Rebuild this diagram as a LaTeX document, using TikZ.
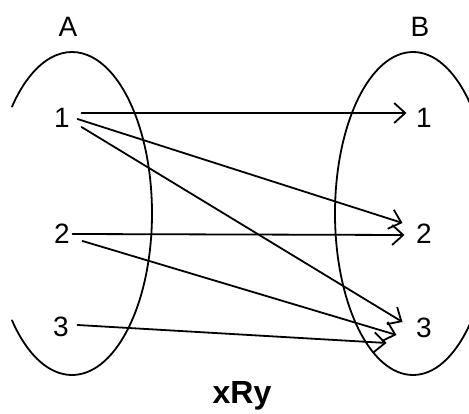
\documentclass[tikz,border=0pt]{standalone}
\usepackage{fontspec}
\setmainfont{Liberation Sans}
\usetikzlibrary{arrows.meta}

\begin{document}
\begin{tikzpicture}[
    x=1pt,
    y=-1pt,
    line cap=round,
    line join=round,
    setedge/.style={
        line width=1.8pt
    },
    maparrow/.style={
        line width=1.8pt,
        -{Straight Barb[length=11pt,width=20pt]}
    },
    elem/.style={
        inner sep=0pt
    },
    every node/.style={
        font=\fontsize{28}{30}\selectfont
    }
]

\useasboundingbox (0,0) rectangle (469,414);

% =================================================
% Множества A и B
% =================================================

\coordinate (SA) at (72,213.5);
\coordinate (SB) at (413,213.5);

% Множество A (овал с разрывом слева)
\draw[setedge] ([shift={(138.6:80 and 161.5)}]SA)
    arc[start angle=138.6, end angle=-138.6, x radius=80, y radius=161.5];

% Множество B
\begin{scope}
    \clip (0,0) rectangle (469,414);
    \draw[setedge] (SB) ellipse[x radius=78, y radius=161.5];
\end{scope}

\node (A) at (68,27)  {A};
\node (B) at (420,27) {B};

% =================================================
% Элементы множеств
% =================================================

\node[elem] (a1) at (62,118) {1};
\node[elem] (a2) at (62,234) {2};
\node[elem] (a3) at (61,327) {3};

\node[elem] (b1) at (424,118) {1};
\node[elem] (b2) at (424,234) {2};
\node[elem] (b3) at (424,328) {3};

% =================================================
% Стрелки отношения
% =================================================

\draw[maparrow] ([shift={(11.5,-5)}]a1.east) -- ([shift={(-9.5,-5)}]b1.west);
\draw[maparrow] ([shift={(7.5,1)}]a1.east)   -- ([shift={(-13.5,-11)}]b2.west);
\draw[maparrow] ([shift={(11.5,9)}]a1.east)  -- ([shift={(-13.5,-6)}]b3.west);

\draw[maparrow] ([shift={(2.5,0)}]a2.east)   -- ([shift={(-11.5,1)}]b2.west);
\draw[maparrow] ([shift={(12.5,7)}]a2.east)  -- ([shift={(-19.5,7)}]b3.west);

\draw[maparrow] ([shift={(8.5,-2)}]a3.east)  -- ([shift={(-29.5,15)}]b3.west);

% =================================================
% Подпись
% =================================================

\node[font=\fontsize{32}{34}\selectfont\bfseries] (title) at (242,396) {xRy};

\end{tikzpicture}
\end{document}
